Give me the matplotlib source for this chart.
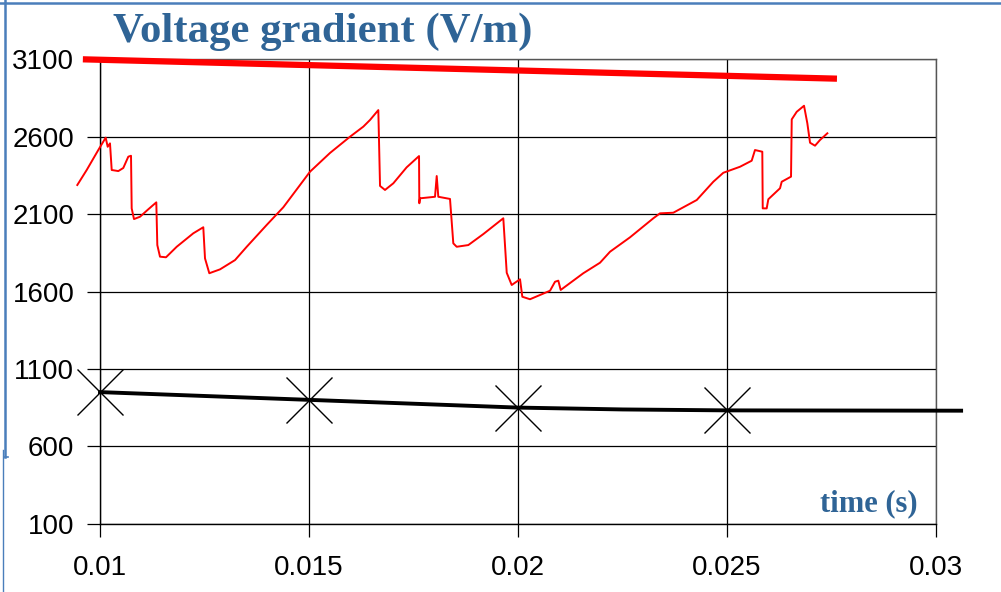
import matplotlib
matplotlib.use("Agg")
import matplotlib.pyplot as plt
from matplotlib.lines import Line2D

# Measured voltage gradient trace (time s, V/m)
trace_t = [0.009457, 0.009682, 0.009959, 0.010136, 0.010184, 0.010239, 0.010280, 0.010438,
           0.010557, 0.010677, 0.010742, 0.010758, 0.010813, 0.010957, 0.011155, 0.011347,
           0.011371, 0.011435, 0.011579, 0.011835, 0.012232, 0.012471, 0.012512, 0.012615,
           0.012871, 0.013230, 0.013510, 0.013988, 0.014385, 0.015024, 0.015502, 0.015981,
           0.016299, 0.016459, 0.016658, 0.016699, 0.016818, 0.017017, 0.017335, 0.017632,
           0.017639, 0.017655, 0.018014, 0.018055, 0.018093, 0.018373, 0.018452, 0.018533,
           0.018811, 0.019170, 0.019648, 0.019730, 0.019849, 0.020048, 0.020103, 0.020287,
           0.020766, 0.020885, 0.020964, 0.021021, 0.021562, 0.021962, 0.022201, 0.022679,
           0.023237, 0.023397, 0.023715, 0.024275, 0.024672, 0.024911, 0.025311, 0.025590,
           0.025669, 0.025844, 0.025854, 0.025949, 0.025988, 0.026268, 0.026308, 0.026531,
           0.026548, 0.026667, 0.026842, 0.026921, 0.026986, 0.027105, 0.027225, 0.027400]
trace_v = [2288, 2385, 2514, 2594, 2535, 2557, 2385, 2378,
           2398, 2471, 2477, 2137, 2068, 2083, 2131, 2176,
           1900, 1825, 1821, 1889, 1976, 2015, 1814, 1718,
           1743, 1803, 1889, 2030, 2144, 2374, 2495, 2600,
           2665, 2708, 2772, 2282, 2256, 2299, 2402, 2475,
           2170, 2202, 2212, 2346, 2212, 2198, 1911, 1889,
           1900, 1971, 2073, 1721, 1642, 1679, 1566, 1550,
           1605, 1663, 1670, 1610, 1718, 1786, 1857, 1950,
           2073, 2105, 2109, 2191, 2309, 2367, 2406, 2445,
           2514, 2503, 2137, 2137, 2196, 2267, 2309, 2342,
           2712, 2761, 2800, 2687, 2561, 2542, 2579, 2622]

# Upper (thick red) reference line
upper_t = [0.00959, 0.02763]
upper_v = [3100, 2975]

# Lower (black) line with markers
lower_t = [0.010, 0.015, 0.020, 0.0225, 0.025, 0.0306]
lower_v = [950, 900, 850, 838, 832, 830]
marker_t = [0.010, 0.015, 0.020, 0.025]
marker_v = [950, 900, 850, 832]

xticks = [0.01, 0.015, 0.02, 0.025, 0.03]
xticklabels = ["0.01", "0.015", "0.02", "0.025", "0.03"]
yticks = [100, 600, 1100, 1600, 2100, 2600, 3100]

title_text = "Voltage gradient (V/m)"
xlabel_text = "time (s)"

blue = "#2F6496"

fig = plt.figure(figsize=(10.01, 5.92), dpi=100)
ax = fig.add_axes([0.0999, 0.1154, 0.8352, 0.7844])

ax.set_xlim(0.01, 0.03)
ax.set_ylim(100, 3100)
ax.set_xticks(xticks)
ax.set_xticklabels(xticklabels)
ax.set_yticks(yticks)
ax.grid(True, color="black", linewidth=0.9)
ax.set_axisbelow(True)
for s in ax.spines.values():
    s.set_color("#555555")
    s.set_linewidth(1.0)
ax.spines["left"].set_color("black")
ax.spines["bottom"].set_color("black")
ax.tick_params(axis="both", direction="out", length=9.5, width=0.9, labelsize=20,
               colors="black")
ax.tick_params(axis="y", pad=9)
ax.tick_params(axis="x", pad=13)
for lab in ax.get_xticklabels() + ax.get_yticklabels():
    lab.set_fontfamily("Liberation Sans")

ax.plot(upper_t, upper_v, color="#FF0000", linewidth=4.5, solid_capstyle="butt",
        clip_on=False, zorder=4)
ax.plot(trace_t, trace_v, color="#FF0000", linewidth=1.4, clip_on=False, zorder=5)
ax.plot(lower_t, lower_v, color="black", linewidth=2.8, clip_on=False, zorder=4)
ax.plot(marker_t, marker_v, linestyle="none", marker="x", markersize=33,
        markeredgewidth=1.0, color="black", clip_on=False, zorder=6)

fig.text(113 / 1001, 1 - 41.7 / 592, title_text, family="Liberation Serif",
         fontweight="bold", fontsize=30.8, color=blue, ha="left", va="baseline")
fig.text(918 / 1001, 1 - 511.7 / 592, xlabel_text, family="Liberation Serif",
         fontweight="bold", fontsize=22, color=blue, ha="right", va="baseline")

# Blue frame pieces
border = "#4A7EBB"
fig.add_artist(Line2D([0, 1], [1 - 2.7 / 592] * 2, transform=fig.transFigure,
                      color=border, linewidth=1.8))
fig.add_artist(Line2D([4.5 / 1001] * 2, [1, 1 - 457 / 592], transform=fig.transFigure,
                      color=border, linewidth=1.8))
fig.add_artist(Line2D([4.5 / 1001, 8 / 1001], [1 - 457 / 592] * 2, transform=fig.transFigure,
                      color=border, linewidth=1.2))
fig.add_artist(Line2D([3 / 1001] * 2, [1 - 450 / 592, 0], transform=fig.transFigure,
                      color=border, linewidth=1.0))

fig.savefig("out.png", dpi=100)
